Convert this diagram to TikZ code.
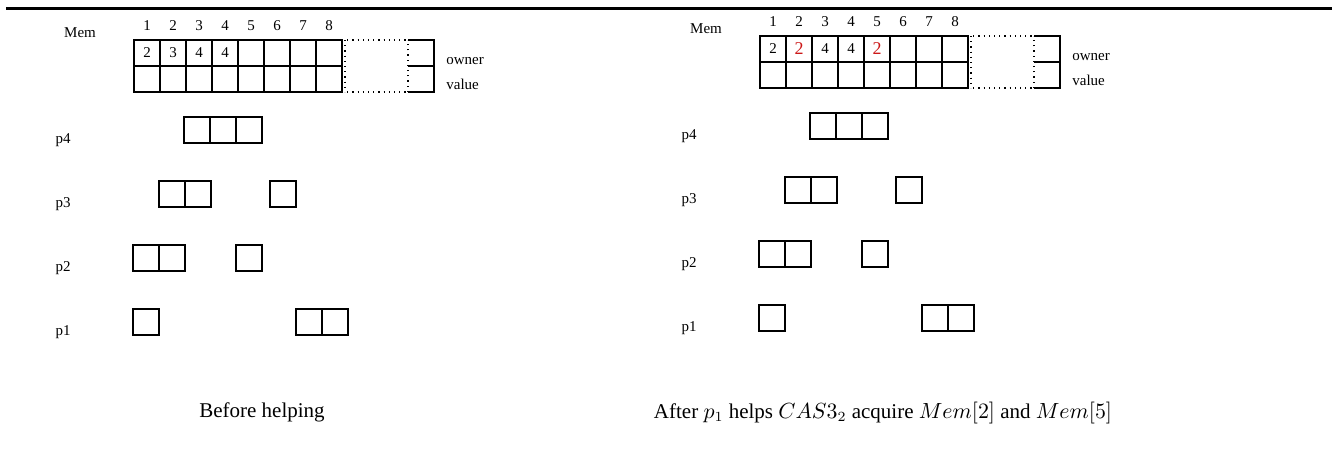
\documentclass[tikz,border=0pt]{standalone}
\usepackage{fontspec}
\setmainfont{Liberation Serif}
\usetikzlibrary{positioning}
\definecolor{helpred}{RGB}{204,24,24}

\begin{document}
\begin{tikzpicture}[x=0.5pt,y=-0.5pt,
    cell/.style={draw, line width=0.6pt, minimum size=13pt, inner sep=0pt, outer sep=0pt},
    slot/.style={minimum size=13pt, inner sep=0pt, outer sep=0pt},
    lbl/.style={font=\fontsize{7.5}{9}\selectfont, inner sep=0pt},
    caption/.style={font=\fontsize{10.5}{12}\selectfont, inner sep=0pt}]

    \useasboundingbox (0,0) rectangle (1332,461);
    \draw[line width=1.5pt] (6,8.5) -- (1332,8.5);

    % the two snapshots
    \foreach \p/\dx/\dy in {a/0/0, b/626/-4}{
        \begin{scope}[shift={(\dx,\dy)}]
            \node[lbl] (\p-mem) at (80,33) {Mem};
            \foreach \i in {1,...,8}{
                \node[cell] (\p-o\i) at (121+26*\i,53) {};
                \node[cell, below=0pt of \p-o\i] (\p-v\i) {};
                \node[lbl, above=4.5pt of \p-o\i] (\p-n\i) {\i};
            }
            \node[slot] (\p-eo) at (421,53) {};
            \node[slot, below=0pt of \p-eo] (\p-ev) {};
            \draw[line width=0.6pt] (\p-eo.north west) -- (\p-eo.north east) -- (\p-ev.south east) -- (\p-ev.south west);
            \draw[line width=0.9pt] (\p-eo.south west) -- (\p-eo.south east);
            \draw[dotted, line width=0.6pt] (\p-ev.south west) -- (\p-eo.north west);
            \draw[dotted, line width=0.6pt] (\p-o8.north east) -- (\p-eo.north west);
            \draw[dotted, line width=0.6pt] (\p-v8.south east) -- (\p-ev.south west);
            \draw[dotted, line width=0.6pt] ([xshift=1.5pt]\p-o8.north east) -- ([xshift=1.5pt]\p-v8.south east);
            \node[lbl, anchor=west] (\p-owner) at (446,61) {owner};
            \node[lbl, anchor=west] (\p-value) at (446,84) {value};

            \foreach \r/\y/\xs in {4/130/{184,210,236}, 3/194/{159,185,270}, 2/258/{133,159,236}, 1/322/{133,296,322}}{
                \node[lbl] (\p-lp\r) at (63,\y+10) {p\r};
                \foreach \x [count=\k] in \xs
                    \node[cell] (\p-p\r-\k) at (\x+13,\y) {};
            }
        \end{scope}
    }

    % owners
    \foreach \i/\v in {1/2,2/3,3/4,4/4}
        \node[lbl] at (a-o\i) {\v};
    \foreach \i/\v in {1/2,3/4,4/4}
        \node[lbl] at (b-o\i) {\v};
    \foreach \i in {2,5}
        \node[lbl, font=\fontsize{9}{10}\selectfont, text=helpred] at (b-o\i) {2};

    \node[caption] (capa) at (262,412) {Before helping};
    \node[caption] (capb) at (883,413) {After $p_1$ helps $CAS3_2$ acquire $Mem[2]$ and $Mem[5]$};

\end{tikzpicture}
\end{document}
